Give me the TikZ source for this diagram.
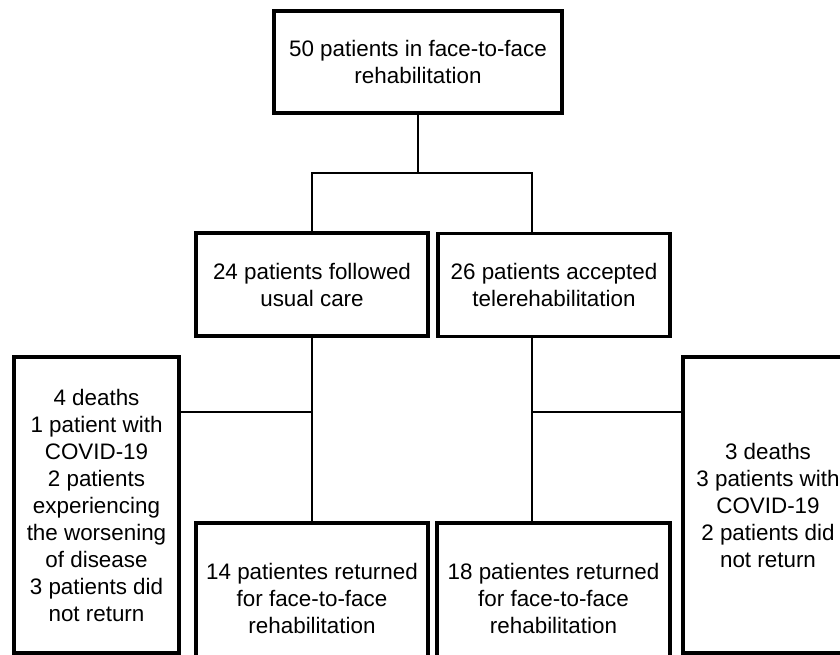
\documentclass[tikz,border=0pt]{standalone}
\usepackage{fontspec}
\setmainfont{Liberation Sans}
\usetikzlibrary{positioning, calc}
\newcommand{\pxu}{0.75pt}

\begin{document}
\begin{tikzpicture}[x=0.75pt, y=-0.75pt,
    box/.style={draw, line width=2.4pt, align=center, inner sep=0pt,
        font=\fontsize{16.8}{20.25}\selectfont},
    link/.style={line width=2pt}]
\useasboundingbox (0,0) rectangle (840,655);
\clip (0,0) rectangle (840,655);

% Start
\node[box, minimum width=288*\pxu, minimum height=102*\pxu] (top) at (418,62) {50 patients in face-to-face\\rehabilitation};

% Groups
\node[box, minimum width=232*\pxu, minimum height=103*\pxu] (usual) at (312,284.5) {24 patients followed\\usual care};
\node[box, minimum width=232*\pxu, minimum height=103*\pxu] (tele) at (554,285) {26 patients accepted\\telerehabilitation};

% Losses
\node[box, minimum width=165*\pxu, minimum height=296*\pxu] (lossL) at (96.5,505) {4 deaths\\1 patient with\\COVID-19\\2 patients\\experiencing\\the worsening\\of disease\\3 patients did\\not return};
\node[box, minimum width=170*\pxu, minimum height=296*\pxu] (lossR) at (768,505) {3 deaths\\3 patients with\\COVID-19\\2 patients did\\not return};

% Returned
\node[box, minimum width=232*\pxu, minimum height=150*\pxu] (backL) at (312,598) {14 patientes returned\\for face-to-face\\rehabilitation};
\node[box, minimum width=233*\pxu, minimum height=150*\pxu] (backR) at (553.5,598) {18 patientes returned\\for face-to-face\\rehabilitation};

% Junctions
\coordinate (fork) at (418,173);
\coordinate (forkR) at (532,173);
\coordinate (joinL) at (312,412);
\coordinate (joinR) at (532,412);

% Connectors
\draw[link] (top.south) -- (fork);
\draw[link] (usual.north) |- (forkR) -- (forkR |- tele.north);
\draw[link] (usual.south) -- (backL.north);
\draw[link] (joinL -| lossL.east) -- (joinL);
\draw[link] (joinR |- tele.south) -- (joinR |- backR.north);
\draw[link] (joinR) -- (joinR -| lossR.west);
\end{tikzpicture}
\end{document}
